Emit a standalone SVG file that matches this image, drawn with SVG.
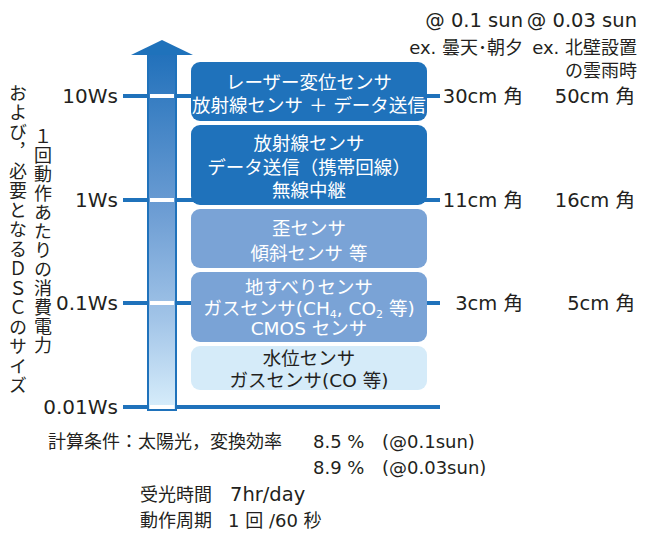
<svg xmlns="http://www.w3.org/2000/svg" width="662" height="534" viewBox="0 0 662 534">
<style>
text{font-family:"DejaVu Sans","Noto Sans CJK JP",sans-serif;fill:#231f20;font-size:18px}
.j{font-family:"Noto Sans CJK JP",sans-serif}
.w{fill:#ffffff}
.c{text-anchor:middle}
.r{text-anchor:end}
.bx{font-size:18.5px}
.ax{font-size:20px}
.sz{font-size:19.5px}
.tick{stroke:#1f72bb;stroke-width:4;fill:none}
.wt{stroke:#ffffff;stroke-width:4;fill:none}
.dk{fill:#1f72bb}
.md{fill:#7aa3d6}
.lt{fill:#d5ebf9}
.v{writing-mode:vertical-rl}
</style>
<defs>
<linearGradient id="g" x1="0" y1="0" x2="0" y2="1">
<stop offset="0" stop-color="#2271bb"/>
<stop offset="0.45" stop-color="#6e9ed4"/>
<stop offset="0.75" stop-color="#a3c5e8"/>
<stop offset="1" stop-color="#d8eefb"/>
</linearGradient>
</defs>
<g id="connectors">
<line class="tick" x1="123" y1="96" x2="440" y2="96"/>
<line class="tick" x1="123" y1="200" x2="440" y2="200"/>
<line class="tick" x1="123" y1="303" x2="440" y2="303"/>
<line class="tick" x1="123" y1="407" x2="440" y2="407"/>
</g>
<g id="axis">
<rect x="148" y="54" width="28" height="356" fill="url(#g)" stroke="#1f72bb" stroke-width="2"/>
<polygon points="162,40 193,55 131,55" fill="#1f72bb"/>
<line class="wt" x1="150" y1="96" x2="174" y2="96"/>
<line class="wt" x1="150" y1="200" x2="174" y2="200"/>
<line class="wt" x1="150" y1="303" x2="174" y2="303"/>
<line class="wt" x1="150" y1="407" x2="174" y2="407"/>
<text class="r ax" x="118" y="103">10Ws</text>
<text class="r ax" x="118" y="207">1Ws</text>
<text class="r ax" x="118" y="310">0.1Ws</text>
<text class="r ax" x="118" y="414">0.01Ws</text>
<text class="v j" x="43" y="127" style="letter-spacing:1px">１回動作あたりの消費電力</text>
<text class="v j" x="18" y="84" style="letter-spacing:1.5px">および，必要となるＤＳＣのサイズ</text>
</g>
<g id="box1">
<rect class="dk" x="191" y="62" width="236" height="59" rx="9"/>
<text class="w c bx" x="309" y="89">レーザー変位センサ</text>
<text class="w c bx" x="309" y="112">放射線センサ ＋ データ送信</text>
</g>
<g id="box2">
<rect class="dk" x="191" y="125" width="236" height="80" rx="9"/>
<text class="w c bx" x="309" y="150">放射線センサ</text>
<text class="w c bx" x="309" y="174">データ送信（携帯回線）</text>
<text class="w c bx" x="309" y="197">無線中継</text>
</g>
<g id="box3">
<rect class="md" x="191" y="209" width="236" height="59" rx="9"/>
<text class="w c bx" x="309" y="235">歪センサ</text>
<text class="w c bx" x="309" y="260">傾斜センサ 等</text>
</g>
<g id="box4">
<rect class="md" x="191" y="272" width="236" height="70" rx="9"/>
<text class="w c bx" x="309" y="294">地すべりセンサ</text>
<text class="w c bx" x="309" y="315">ガスセンサ(CH<tspan font-size="11" dy="3">4</tspan><tspan dy="-3">, CO</tspan><tspan font-size="11" dy="3">2</tspan><tspan dy="-3"> 等)</tspan></text>
<text class="w c bx" x="309" y="335">CMOS センサ</text>
</g>
<g id="box5">
<rect class="lt" x="191" y="346" width="236" height="44" rx="9"/>
<text class="c bx" x="309" y="365">水位センサ</text>
<text class="c bx" x="309" y="387">ガスセンサ(CO 等)</text>
</g>
<g id="sizes">
<text class="r sz" x="523" y="27">@ 0.1 sun</text>
<text class="r sz" x="637" y="27">@ 0.03 sun</text>
<text class="r" x="523" y="54">ex. 曇天･朝夕</text>
<text class="r" x="637" y="54">ex. 北壁設置</text>
<text class="r" x="637" y="77">の雲雨時</text>
<text class="r sz" x="523" y="103">30cm 角</text>
<text class="r sz" x="635" y="103">50cm 角</text>
<text class="r sz" x="523" y="207">11cm 角</text>
<text class="r sz" x="635" y="207">16cm 角</text>
<text class="r sz" x="523" y="310">3cm 角</text>
<text class="r sz" x="635" y="310">5cm 角</text>
</g>
<g id="conditions">
<text x="48" y="448">計算条件：太陽光，変換効率</text>
<text x="313" y="448">8.5 %</text>
<text x="382" y="448">(@0.1sun)</text>
<text x="313" y="474">8.9 %</text>
<text x="382" y="474">(@0.03sun)</text>
<text x="140" y="501">受光時間</text>
<text x="230" y="501" style="font-size:19.5px">7hr/day</text>
<text x="140" y="527">動作周期</text>
<text x="228" y="527">1 回 /60 秒</text>
</g>
</svg>
